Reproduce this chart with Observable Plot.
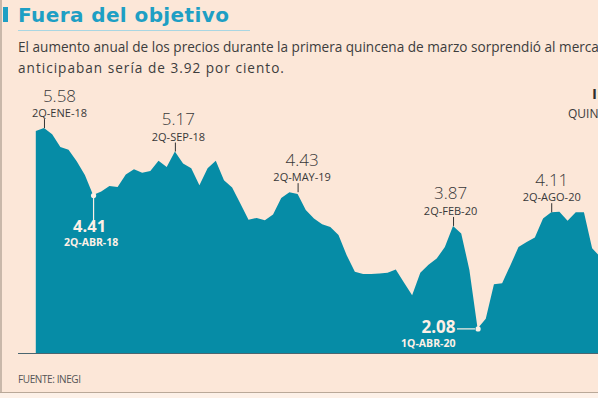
<!DOCTYPE html>
<html>
<head>
<meta charset="utf-8">
<script src="https://cdn.jsdelivr.net/npm/d3@7"></script>
<script src="https://cdn.jsdelivr.net/npm/@observablehq/plot@0.6"></script>
<style>
  html, body { margin: 0; padding: 0; background: #fce7d8; overflow: hidden; width: 598px; height: 398px; }
  #wrap { position: relative; width: 720px; height: 398px; font-family: "Open Sans", sans-serif; }
  #lborder { position: absolute; left: 0; top: 0; width: 2px; height: 393px; background: #c9b8aa; }
  #bborder { position: absolute; left: 0; top: 392px; width: 720px; height: 1px; background: #b9a898; }
  #below { position: absolute; left: 0; top: 393px; width: 720px; height: 5px; background: #fdf1e8; }
  #bar { position: absolute; left: 3px; top: 7px; width: 5px; height: 15px; background: #1e9fc4; }
  #title { position: absolute; left: 18px; top: 3px; font-family: "DejaVu Sans", sans-serif; font-size: 20px; font-weight: 700; letter-spacing: 0.4px; color: #1e9fc4; white-space: nowrap; }
  #rule { position: absolute; left: 18px; top: 30px; width: 232px; height: 1px; background: #a9d6e2; }
  #sub { position: absolute; left: 18px; top: 36px; font-size: 13.6px; line-height: 21px; color: #3d3d3d; white-space: nowrap; font-weight: 400; }
  #sub .l2 { letter-spacing: 1.0px; }
  #chart { position: absolute; left: 0; top: 80px; }
  #foot { position: absolute; left: 18px; top: 372px; font-size: 10px; letter-spacing: -0.4px; color: #555; white-space: nowrap; }
  #lastv { position: absolute; left: 592px; top: 86px; font-size: 15px; line-height: 15px; font-weight: 700; color: #2e2e2e; white-space: nowrap; }
  #lastl { position: absolute; left: 568px; top: 108px; font-size: 12px; line-height: 12px; color: #3b3b3b; white-space: nowrap; }
</style>
</head>
<body>
<div id="wrap">
  <div id="lborder"></div>
  <div id="bborder"></div>
  <div id="below"></div>
  <div id="bar"></div>
  <div id="title">Fuera del objetivo</div>
  <div id="rule"></div>
  <div id="sub">El aumento anual de los precios durante la primera quincena de marzo sorprendió al mercado, cuyos analistas<br><span class="l2">anticipaban sería de 3.92 por ciento.</span></div>
  <div id="chart"></div>
  <div id="lastv">INFLACIÓN</div>
  <div id="lastl">QUINCENAL</div>
  <div id="foot">FUENTE: INEGI</div>
</div>
<script>
// Biweekly periods starting at 1Q-ENE-18 (index -1)
const months = ["ENE","FEB","MAR","ABR","MAY","JUN","JUL","AGO","SEP","OCT","NOV","DIC"];
const values = [
  5.53, 5.58, 5.47, 5.25, 5.20, 5.00, 4.76, 4.41, 4.47, 4.57,
  4.55, 4.77, 4.86, 4.80, 4.83, 5.01, 4.90, 5.17, 4.96, 4.88,
  4.58, 4.88, 5.01, 4.67, 4.54, 4.26, 3.98, 4.01, 3.97, 4.07,
  4.36, 4.46, 4.43, 4.15, 4.00, 3.90, 3.85, 3.71, 3.36, 3.07,
  3.03, 3.03, 3.04, 3.05, 3.11, 2.88, 2.66, 3.05, 3.19, 3.30,
  3.50, 3.87, 3.74, 3.10, 2.08, 2.25, 2.85, 2.87, 3.18, 3.50,
  3.59, 3.67, 4.00, 4.11, 4.12, 3.96, 4.11, 4.11, 3.48, 3.33
];
const startIndex = -1;
const periods = values.map((_, k) => {
  const m = Math.floor(k / 2);
  const q = k % 2 === 0 ? "1Q" : "2Q";
  const yr = 18 + Math.floor(m / 12);
  return q + "-" + months[m % 12] + "-" + yr;
});
const data = values.map((v, k) => ({i: k + startIndex, v, period: periods[k]}));

// Annotations (value labels as printed on the chart)
const darkNotes = [
  {i: 0,  v: 5.58, value: "5.58", label: "2Q-ENE-18", dx: 15},
  {i: 16, v: 5.17, value: "5.17", label: "2Q-SEP-18", dx: 3},
  {i: 31, v: 4.46, value: "4.43", label: "2Q-MAY-19", dx: 4},
  {i: 50, v: 3.87, value: "3.87", label: "2Q-FEB-20", dx: -3},
  {i: 62, v: 4.11, value: "4.11", label: "2Q-AGO-20", dx: 0}
];
const lowA = {i: 6, v: 4.41, value: "4.41", label: "2Q-ABR-18"};
const lowB = {i: 53, v: 2.08, value: "2.08", label: "1Q-ABR-20"};

const base = 1.65;
const teal = "#068ca6";
const dark = "#383838";
const light = "#fdf0e6";
const pxPerUnit = 57.2;   // vertical px per percentage point
const pxPerStep = 8.18;   // horizontal px per biweekly period
const shiftX = d => d.i + d.dx / pxPerStep;

const chart = Plot.plot({
  width: 720,
  height: 280,
  marginLeft: 18,
  marginRight: 0,
  marginTop: 0,
  marginBottom: 7,
  x: {domain: [-1, 68], range: [35.8, 600.3], axis: null},
  y: {domain: [base, 6.42], axis: null},
  style: {background: "transparent", fontFamily: "Open Sans, sans-serif", overflow: "visible"},
  marks: [
    Plot.areaY(data, {x: "i", y1: base, y2: "v", fill: teal, curve: "linear"}),
    Plot.ruleY([base], {stroke: "#4a6670", strokeWidth: 1}),
    // dark annotations above peaks
    Plot.ruleX(darkNotes, {x: "i", y1: "v", y2: d => d.v + 9 / pxPerUnit, stroke: "#333", strokeWidth: 1}),
    Plot.text(darkNotes, {x: shiftX, y: "v", text: "value", dy: -27, lineAnchor: "bottom", textAnchor: "middle",
      fontSize: 17, fontWeight: 300, fill: dark}),
    Plot.text(darkNotes, {x: shiftX, y: "v", text: "label", dy: -11.5, lineAnchor: "bottom", textAnchor: "middle",
      fontSize: 11, letterSpacing: 0, fill: dark}),
    // white low annotations
    Plot.ruleX([lowA], {x: "i", y1: "v", y2: d => d.v - 28 / pxPerUnit, stroke: light, strokeWidth: 1.2}),
    Plot.ruleY([lowB], {y: "v", x1: d => d.i - 20.6 / pxPerStep, x2: d => d.i - 2.6 / pxPerStep, stroke: light, strokeWidth: 1.2}),
    Plot.dot([lowA, lowB], {x: "i", y: "v", r: 2.6, fill: light, stroke: null}),
    Plot.text([lowA], {x: d => d.i - 4 / pxPerStep, y: "v", text: "value", dy: 36.7, lineAnchor: "bottom",
      fontSize: 16.5, fontWeight: 700, fill: light}),
    Plot.text([lowA], {x: d => d.i - 2.5 / pxPerStep, y: "v", text: "label", dy: 50.7, lineAnchor: "bottom",
      fontSize: 10.5, fontWeight: 700, fill: light}),
    Plot.text([lowB], {x: d => d.i - 22.6 / pxPerStep, y: "v", text: "value", dy: 4, lineAnchor: "bottom", textAnchor: "end",
      fontSize: 17, fontWeight: 700, fill: light}),
    Plot.text([lowB], {x: d => d.i - 22.6 / pxPerStep, y: "v", text: "label", dy: 18.4, lineAnchor: "bottom", textAnchor: "end",
      fontSize: 10.5, fontWeight: 700, fill: light})
  ]
});
document.getElementById("chart").appendChild(chart);
</script>
</body>
</html>
